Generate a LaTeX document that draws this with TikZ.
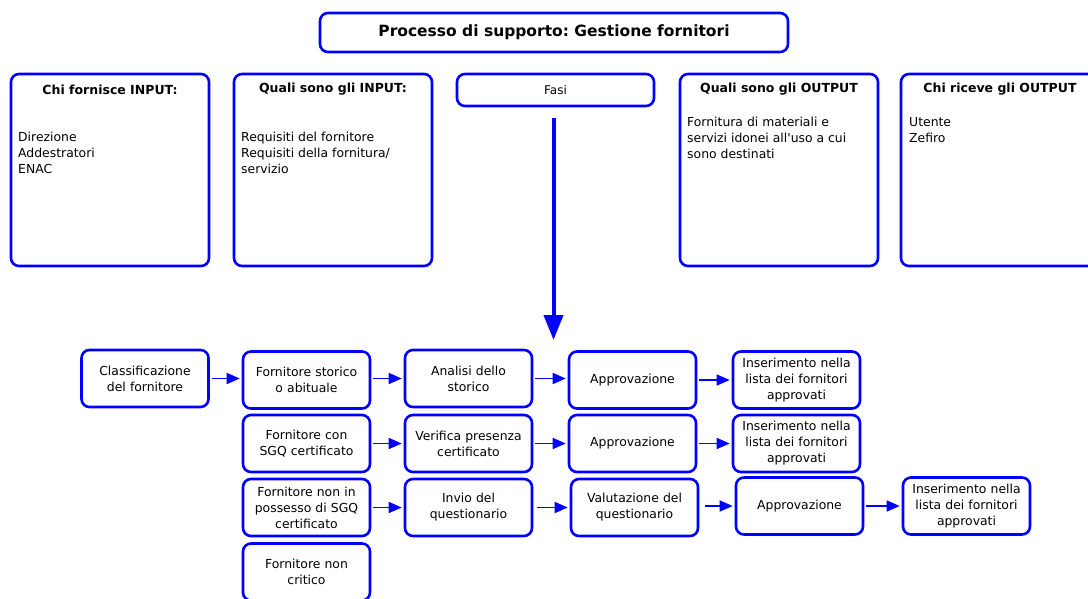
\documentclass[tikz,border=0pt]{standalone}
\usepackage{fontspec}
\setmainfont{DejaVu Sans}
\usetikzlibrary{arrows.meta}
\frenchspacing
\definecolor{bblue}{RGB}{0,0,255}
\tikzset{
  rbox/.style={draw=bblue, line width=2.6pt, rounded corners=8pt, fill=white, inner sep=0pt, align=center, font=\fontsize{12.4}{16}\selectfont},
  flowbox/.style={rbox, minimum width=127pt, minimum height=57pt, text width=120pt},
  bigbox/.style={rbox, minimum width=198pt, minimum height=192pt},
  head/.style={font=\fontsize{12.5}{16}\selectfont\bfseries, inner sep=0pt, anchor=center},
  body/.style={font=\fontsize{12.4}{16}\selectfont, inner sep=0pt, anchor=north west, align=left},
  arr/.style={draw=bblue, line width=1.6pt, -{Triangle[length=13pt,width=11pt]}, shorten <=2pt, shorten >=2pt},
}
\begin{document}
\begin{tikzpicture}[x=1pt,y=-1pt]
\useasboundingbox (0,0) rectangle (1088,598);
% title
\node[rbox, minimum width=468pt, minimum height=39pt, font=\fontsize{15.5}{18}\selectfont\bfseries] (title) at (554,32.5) {Processo di supporto: Gestione fornitori};
% top boxes
\node[bigbox] (b1) at (110,170) {};
\node[bigbox] (b2) at (333,170) {};
\node[rbox, minimum width=197pt, minimum height=32pt, font=\fontsize{12}{14}\selectfont] (fasi) at (555.5,90) {Fasi};
\node[bigbox] (b4) at (779,170) {};
\node[bigbox] (b5) at (1000,170) {};
\node[head] (h1) at (110,89.5) {Chi fornisce INPUT:};
\node[head] (h2) at (333,89.5) {Quali sono gli INPUT:};
\node[head] (h4) at (779,89.5) {Quali sono gli OUTPUT};
\node[head] (h5) at (1000,89.5) {Chi riceve gli OUTPUT};
\node[body] (t1) at (18,132) {Direzione\\Addestratori\\ENAC};
\node[body] (t2) at (241,132) {Requisiti del fornitore\\Requisiti della fornitura/\\servizio};
\node[body] (t4) at (687,117) {Fornitura di materiali e\\servizi idonei all\textquotesingle uso a cui\\sono destinati};
\node[body] (t5) at (909,117) {Utente\\Zefiro};
% big arrow
\coordinate (tip) at (553.5,340);
\draw[draw=bblue, line width=4pt, -{Triangle[length=25pt,width=19pt]}, shorten <=11pt] (fasi.south -| tip) -- (tip);
% flow
\node[flowbox] (cls) at (145,378.5) {Classificazione\\del fornitore};
\node[flowbox] (f1) at (306.5,380) {Fornitore storico\\o abituale};
\node[flowbox] (a1) at (468.5,378.5) {Analisi dello\\storico};
\node[flowbox] (p1) at (632.5,380) {Approvazione};
\node[flowbox] (i1) at (796.5,380) {Inserimento nella\\lista dei fornitori\\approvati};
\node[flowbox] (f2) at (306.5,443.5) {Fornitore con\\SGQ certificato};
\node[flowbox] (a2) at (468.5,443.5) {Verifica presenza\\certificato};
\node[flowbox] (p2) at (632.5,443.5) {Approvazione};
\node[flowbox] (i2) at (796.5,443.5) {Inserimento nella\\lista dei fornitori\\approvati};
\node[flowbox] (f3) at (306.5,507.5) {Fornitore non in\\possesso di SGQ\\certificato};
\node[flowbox] (a3) at (468.5,507.5) {Invio del\\questionario};
\node[flowbox] (v3) at (634.5,507.5) {Valutazione del\\questionario};
\node[flowbox] (p3) at (799.5,506) {Approvazione};
\node[flowbox] (i3) at (966.5,506) {Inserimento nella\\lista dei fornitori\\approvati};
\node[flowbox] (f4) at (306.5,572) {Fornitore non\\critico};
% arrows
\draw[arr] (cls.east) -- (cls.east -| f1.west);
\draw[arr] (f1.east |- a1.east) -- (a1.west);
\draw[arr] (a1.east) -- (a1.east -| p1.west);
\draw[arr] (p1.east) -- (i1.west);
\draw[arr] (f2.east) -- (a2.west);
\draw[arr] (a2.east) -- (p2.west);
\draw[arr] (p2.east) -- (i2.west);
\draw[arr] (f3.east) -- (a3.west);
\draw[arr, shorten <=4pt] (a3.east) -- (v3.west);
\draw[arr, shorten <=6pt] (v3.east |- p3.east) -- (p3.west);
\draw[arr] (p3.east) -- (i3.west);
\end{tikzpicture}
\end{document}
